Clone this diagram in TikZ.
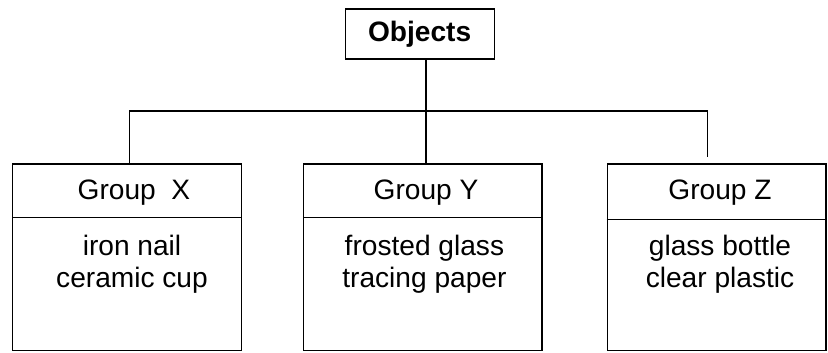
\documentclass[tikz,border=0pt]{standalone}
\usepackage{fontspec}
\setmainfont{Liberation Sans}
\usetikzlibrary{calc}

\begin{document}
\begin{tikzpicture}[
  box/.style={draw,line width=0.8pt,inner sep=0pt},
  txt/.style={font=\fontsize{20}{22.7}\selectfont,inner sep=0pt,align=center}]
\useasboundingbox (0,0) rectangle (20.7,8.8);
\node[box,minimum width=3.725cm,minimum height=1.25cm,font=\fontsize{20}{22.7}\selectfont\bfseries] (obj) at (10.49,7.95) {Objects};
\node[box,minimum width=5.71cm,minimum height=4.66cm] (gx) at (3.175,2.37) {};
\node[box,minimum width=5.96cm,minimum height=4.66cm] (gy) at (10.57,2.37) {};
\node[box,minimum width=5.47cm,minimum height=4.66cm] (gz) at (17.915,2.37) {};
% header lines
\draw[line width=0.8pt] ($(gx.north west)+(0,-1.35)$) -- ($(gx.north east)+(0,-1.35)$);
\draw[line width=0.8pt] ($(gy.north west)+(0,-1.35)$) -- ($(gy.north east)+(0,-1.35)$);
\draw[line width=0.8pt] ($(gz.north west)+(0,-1.4)$) -- ($(gz.north east)+(0,-1.4)$);
\node[txt] (gxh) at (3.35,3.975) {Group\ \ X};
\node[txt] (gyh) at (10.65,3.975) {Group Y};
\node[txt] (gzh) at (18.0,3.975) {Group Z};
\node[txt] (gxb) at (3.3,2.2) {iron nail\\ceramic cup};
\node[txt] (gyb) at (10.61,2.2) {frosted glass\\tracing paper};
\node[txt] (gzb) at (18.0,2.2) {glass bottle\\clear plastic};
% connectors
\coordinate (busl) at (3.235,6.025);
\coordinate (busm) at (10.65,6.025);
\coordinate (busr) at (17.69,6.025);
\coordinate (dropr) at (17.69,4.875);
\draw[line width=0.8pt] (busm |- obj.south) -- (busm |- gy.north);
\draw[line width=0.8pt] (busl |- gx.north) -- (busl) -- (busr) -- (dropr);
\end{tikzpicture}
\end{document}
